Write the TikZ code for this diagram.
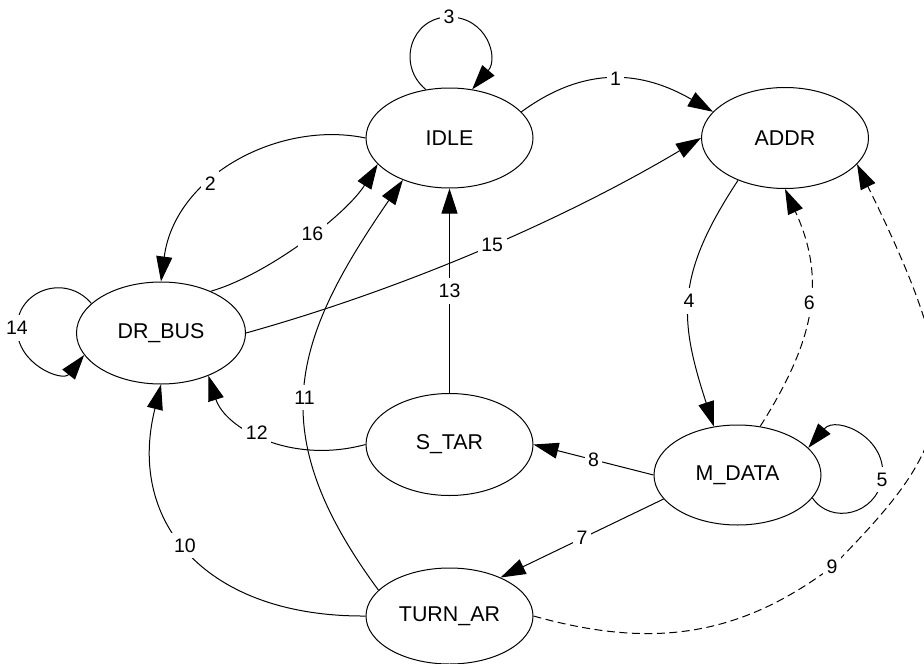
\documentclass[tikz,border=0pt]{standalone}
\usepackage{fontspec}
\setmainfont{Liberation Sans}
\usetikzlibrary{arrows.meta,shapes.geometric}
\begin{document}
\begin{tikzpicture}[x=1pt,y=-1pt,
  st/.style={ellipse, draw, line width=1pt, minimum width=167pt, minimum height=100pt, inner sep=0pt, font=\fontsize{21.4}{25}\selectfont},
  lbl/.style={fill=white, inner xsep=3.5pt, inner ysep=6pt, font=\fontsize{19.5}{23}\selectfont},
  arr/.style={-{Triangle[length=25pt,width=16pt]}, line width=1pt},
  ln/.style={line width=1pt},
  dsh/.style={dash pattern=on 8pt off 4.5pt}]
\useasboundingbox (0,0) rectangle (924,664);
\node[st] (IDLE) at (449.5,138) {IDLE};
\node[st, minimum height=101pt] (ADDR) at (785,138) {ADDR};
\node[st, minimum width=169pt, minimum height=102pt] (DRBUS) at (161,333) {DR\_BUS};
\node[st, minimum height=102pt] (STAR) at (449.5,444.5) {S\_TAR};
\node[st] (MDATA) at (737.5,475) {M\_DATA};
\node[st, minimum height=96pt] (TURNAR) at (449.5,616) {TURN\_AR};
% 1
\draw[arr] (IDLE.20) .. controls (586.6,64.2) and (643.3,71.5) .. node[lbl,pos=0.5]{1} (ADDR.160);
% 2
\draw[arr] (IDLE.180) .. controls (280,120) and (175,175) .. node[lbl,pos=0.62]{2} (DRBUS.north);
% 3
\draw[arr] (IDLE.116) .. controls (396,65) and (411,17) .. (449,17) node[lbl]{3} .. controls (487,17) and (499,58) .. (IDLE.65);
% 14
\draw[arr] (DRBUS.157) .. controls (65.6,273) and (17,290) .. (17,328) node[lbl]{14} .. controls (17,365) and (62.7,382) .. (DRBUS.196);
% 5
\draw[arr] (MDATA.343) .. controls (831.3,525.3) and (875.7,514.4) .. (882,479.5) node[lbl]{5} .. controls (889.2,438.3) and (836.3,414.5) .. (MDATA.21);
% 4
\draw[arr] (ADDR.222) .. controls (675,276) and (679,319) .. node[lbl,pos=0.51]{4} (MDATA.116);
% 6
\draw[arr,dsh] (MDATA.65) .. controls (814.7,340.6) and (826.8,279.9) .. node[lbl,pos=0.53]{6} (ADDR.south);
% 15
\draw[arr] (DRBUS.east) .. controls (400,290) and (560,222) .. node[lbl,pos=0.53]{15} (ADDR.west);
% 16
\draw[arr] (DRBUS.40) .. controls (266.6,275.2) and (346,215) .. node[lbl,pos=0.55]{16} (IDLE.200);
% 13
\draw[arr] (STAR.north) -- node[lbl,pos=0.5]{13} (IDLE.south);
% 11
\draw[arr] (TURNAR.160) .. controls (262,432) and (292,341) .. node[lbl,pos=0.47]{11} (IDLE.222);
% 12
\draw[arr] (STAR.west) .. controls (290,465) and (225,428) .. node[lbl,pos=0.55]{12} (DRBUS.318);
% 10
\draw[arr] (TURNAR.west) .. controls (208,617) and (126,524) .. node[lbl,pos=0.53]{10} (DRBUS.south);
% 8
\draw[arr] (MDATA.west) -- node[lbl,pos=0.5]{8} (STAR.east);
% 7
\draw[arr] (MDATA.198) -- node[lbl,pos=0.5]{7} (TURNAR.37);
% 9
\draw[arr,dsh] (TURNAR.east) .. controls (648,648) and (736,639) .. (832,567) node[lbl]{9} .. controls (958,439) and (971.4,398) .. (ADDR.340);
\end{tikzpicture}
\end{document}
